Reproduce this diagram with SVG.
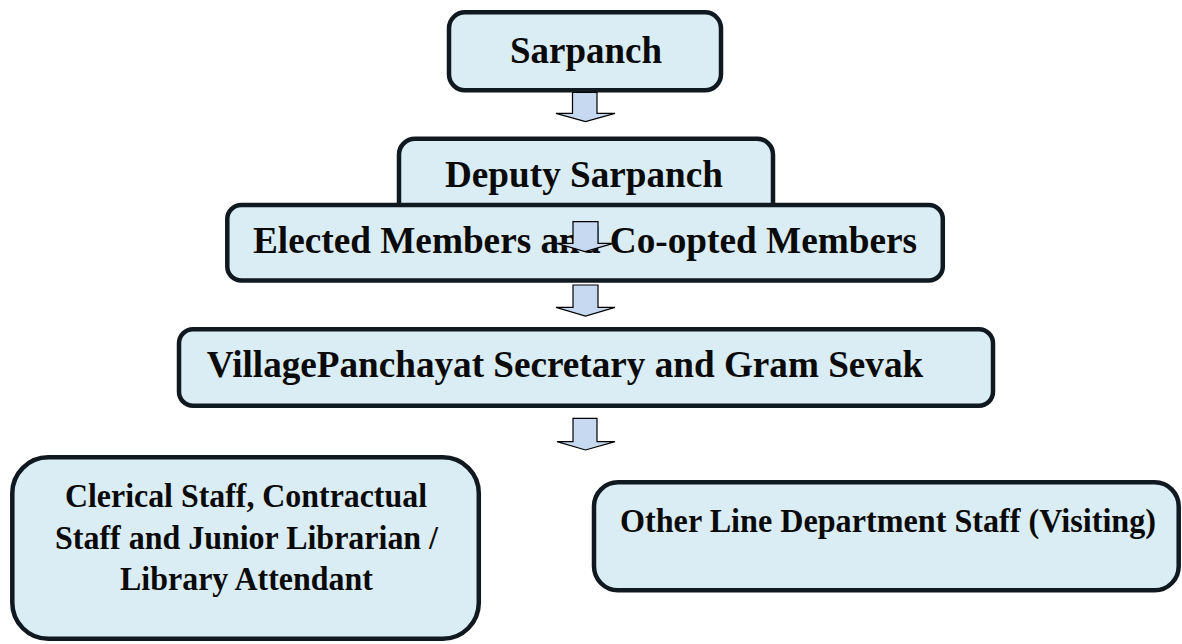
<svg xmlns="http://www.w3.org/2000/svg" width="1182" height="644" viewBox="0 0 1182 644">
<style>
.box{fill:#daedf4;stroke:#101820;stroke-width:4.5}
.arrow{fill:#c6d9f1;stroke:#000;stroke-width:1.2;stroke-linejoin:miter}
.t{font-family:"Liberation Serif","Times New Roman",serif;font-weight:bold;fill:#0a0a0a}
</style>
<rect width="1182" height="644" fill="#ffffff"/>
<g id="sarpanch">
<rect class="box" x="449" y="12.3" width="272" height="78" rx="16"/>
<text class="t" x="510" y="63.3" font-size="38" textLength="152" lengthAdjust="spacingAndGlyphs">Sarpanch</text>
</g>
<g id="deputy-sarpanch">
<rect class="box" x="399" y="138.7" width="374" height="80" rx="16"/>
<text class="t" x="445" y="186.5" font-size="37" textLength="278" lengthAdjust="spacingAndGlyphs">Deputy Sarpanch</text>
</g>
<g id="elected-members">
<rect class="box" x="227.3" y="205" width="715.5" height="75.5" rx="14"/>
<text class="t" x="253" y="253" font-size="38" textLength="664" lengthAdjust="spacingAndGlyphs">Elected Members and Co-opted Members</text>
</g>
<g id="secretary">
<rect class="box" x="179" y="329.3" width="814" height="76.5" rx="14"/>
<text class="t" x="206.7" y="377.3" font-size="38" textLength="716.5" lengthAdjust="spacingAndGlyphs">VillagePanchayat Secretary and Gram Sevak</text>
</g>
<g id="clerical-staff">
<rect class="box" x="12.3" y="457.3" width="466.5" height="181.5" rx="36"/>
<text class="t" x="65" y="506.7" font-size="34" textLength="362" lengthAdjust="spacingAndGlyphs">Clerical Staff, Contractual</text>
<text class="t" x="55" y="549" font-size="34" textLength="383" lengthAdjust="spacingAndGlyphs">Staff and Junior Librarian /</text>
<text class="t" x="120" y="590" font-size="34" textLength="253" lengthAdjust="spacingAndGlyphs">Library Attendant</text>
</g>
<g id="line-department-staff">
<rect class="box" x="594" y="482.3" width="584.7" height="108" rx="24"/>
<text class="t" x="620" y="532" font-size="33" textLength="536" lengthAdjust="spacingAndGlyphs">Other Line Department Staff (Visiting)</text>
</g>
<g id="connectors">
<path class="arrow" d="M572.5 92.5 L597 92.5 L597 113.3 L615 113.3 L585.5 121.7 L556 113.3 L572.5 113.3 Z"/>
<path class="arrow" d="M573 221.7 L598 221.7 L598 243.3 L613.3 243.3 L585 251.7 L556.7 243.3 L573 243.3 Z"/>
<path class="arrow" d="M573 285 L598 285 L598 307.3 L615 307.3 L585.5 316 L556 307.3 L573 307.3 Z"/>
<path class="arrow" d="M573 418.3 L597 418.3 L597 441.7 L615 441.7 L585.5 450 L557 441.7 L573 441.7 Z"/>
</g>
</svg>
